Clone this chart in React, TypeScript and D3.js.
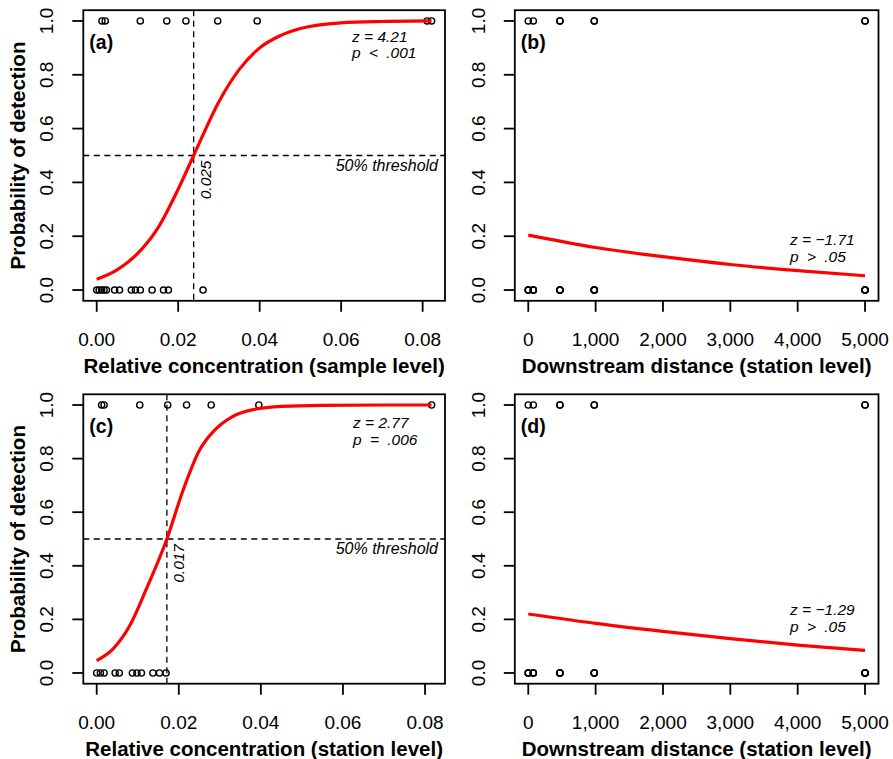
import * as d3 from 'd3';

const FONT = '"Liberation Sans", Arial, Helvetica, sans-serif';

const probTicks = [0, 0.2, 0.4, 0.6, 0.8, 1.0];
const concTicks = [0, 0.02, 0.04, 0.06, 0.08];
const distTicks = [0, 1000, 2000, 3000, 4000, 5000];

// (a) relative concentration, sample level
const sampleDetected = [0.0013, 0.0021, 0.0107, 0.0172, 0.0219, 0.0297, 0.0394, 0.0811, 0.0822];
const sampleMissed = [0, 0.0006, 0.0012, 0.0018, 0.0024, 0.0044, 0.0056, 0.0085, 0.0095, 0.0107, 0.0136, 0.0164, 0.0176, 0.0261];
const sampleCurveX = [0, 0.005, 0.01, 0.015, 0.02, 0.0238, 0.03, 0.035, 0.04, 0.045, 0.05, 0.06, 0.07, 0.0822];
const sampleCurveP = [0.04, 0.075, 0.135, 0.23, 0.375, 0.5, 0.7, 0.82, 0.9, 0.945, 0.972, 0.993, 0.998, 1.0];

// (c) relative concentration, station level
const stationDetected = [0.0012, 0.0018, 0.0105, 0.0173, 0.0219, 0.0279, 0.0395, 0.0816];
const stationMissed = [0, 0.0009, 0.0018, 0.0045, 0.0055, 0.0087, 0.0098, 0.0109, 0.0137, 0.0153, 0.0169];
const stationCurveX = [0, 0.004, 0.008, 0.012, 0.0171, 0.021, 0.025, 0.029, 0.033, 0.037, 0.045, 0.055, 0.07, 0.0816];
const stationCurveP = [0.046, 0.09, 0.175, 0.31, 0.5, 0.68, 0.83, 0.91, 0.956, 0.979, 0.995, 0.999, 1.0, 1.0];

// (b), (d) downstream distance, station level
const distDetected = [0, 75, 470, 470, 980, 980, 5000, 5000];
const distMissed = [0, 0, 0, 75, 75, 75, 470, 470, 470, 470, 980, 980, 980, 980, 5000, 5000, 5000, 5000, 5000];
const distCurveX = [0, 1000, 2000, 3000, 4000, 5000];
const distCurvePb = [0.204, 0.158, 0.124, 0.095, 0.072, 0.053];
const distCurvePd = [0.22, 0.185, 0.155, 0.128, 0.104, 0.084];

const fmtConc = d3.format('.2f');
const fmtDist = (d: number) => (d === 0 ? '0' : d3.format(',')(d));

type Box = { left: number; right: number; top: number; bottom: number };

type PanelProps = {
  box: Box;
  xMax: number;
  xTicks: number[];
  xFormat: (d: number) => string;
  detected: number[];
  missed: number[];
  curveX: number[];
  curveP: number[];
  letter: string;
  zText: string;
  pText: string;
  statX: number;
  zY: number;
  pY: number;
  xTitle: string;
  yTitle?: string;
  threshold?: { x: number; label: string };
};

function Panel(props: PanelProps) {
  const { box, xMax, xTicks, xFormat, detected, missed, curveX, curveP } = props;
  const x = d3.scaleLinear().domain([-0.04 * xMax, 1.04 * xMax]).range([box.left, box.right]);
  const y = d3.scaleLinear().domain([-0.04, 1.04]).range([box.bottom, box.top]);
  const line = d3
    .line<number>()
    .x((d) => x(d))
    .y((_, i) => y(curveP[i]))
    .curve(d3.curveMonotoneX);
  const tickLen = 11;
  const cx = (box.left + box.right) / 2;
  const cy = (box.top + box.bottom) / 2;

  return (
    <g>
      {/* threshold lines */}
      {props.threshold && (
        <g stroke="#000" strokeWidth={1.3} strokeDasharray="6,4.5" fill="none">
          <line x1={box.left} x2={box.right} y1={y(0.5)} y2={y(0.5)} />
          <line x1={x(props.threshold.x)} x2={x(props.threshold.x)} y1={box.top} y2={box.bottom} />
        </g>
      )}
      {props.threshold && (
        <>
          <text
            x={box.right - 7}
            y={y(0.5) + 15}
            textAnchor="end"
            fontStyle="italic"
            fontSize={16}
            fontFamily={FONT}
          >
            50% threshold
          </text>
          <text
            transform={`translate(${x(props.threshold.x) + 17},${y(0.5) + 5}) rotate(-90)`}
            textAnchor="end"
            fontStyle="italic"
            fontSize={15.5}
            fontFamily={FONT}
          >
            {props.threshold.label}
          </text>
        </>
      )}

      {/* points */}
      <g fill="none" stroke="#000" strokeWidth={1.4}>
        {detected.map((d, i) => (
          <circle key={'d' + i} cx={x(d)} cy={y(1)} r={3.1} />
        ))}
        {missed.map((d, i) => (
          <circle key={'m' + i} cx={x(d)} cy={y(0)} r={3.1} />
        ))}
      </g>

      {/* fitted curve */}
      <path d={line(curveX) || ''} fill="none" stroke="#ff0000" strokeWidth={3.2} />

      {/* box */}
      <rect
        x={box.left}
        y={box.top}
        width={box.right - box.left}
        height={box.bottom - box.top}
        fill="none"
        stroke="#000"
        strokeWidth={1.8}
      />

      {/* x axis */}
      {xTicks.map((t) => (
        <g key={'xt' + t}>
          <line x1={x(t)} x2={x(t)} y1={box.bottom} y2={box.bottom + tickLen} stroke="#000" strokeWidth={1.8} />
          <text x={x(t)} y={box.bottom + 45} textAnchor="middle" fontSize={19} fontFamily={FONT}>
            {xFormat(t)}
          </text>
        </g>
      ))}
      <text x={cx} y={box.bottom + 72} textAnchor="middle" fontSize={20.5} fontWeight="bold" fontFamily={FONT}>
        {props.xTitle}
      </text>

      {/* y axis */}
      {probTicks.map((t) => (
        <g key={'yt' + t}>
          <line x1={box.left - tickLen} x2={box.left} y1={y(t)} y2={y(t)} stroke="#000" strokeWidth={1.8} />
          <text
            transform={`translate(${box.left - 30},${y(t)}) rotate(-90)`}
            textAnchor="middle"
            fontSize={19}
            fontFamily={FONT}
          >
            {t.toFixed(1)}
          </text>
        </g>
      ))}
      {props.yTitle && (
        <text
          transform={`translate(${box.left - 58},${cy}) rotate(-90)`}
          textAnchor="middle"
          fontSize={20.5}
          fontWeight="bold"
          fontFamily={FONT}
        >
          {props.yTitle}
        </text>
      )}

      {/* labels */}
      <text x={box.left + 6} y={box.top + 39} fontSize={19.5} fontWeight="bold" fontFamily={FONT}>
        {props.letter}
      </text>
      <text x={props.statX} y={props.zY} fontSize={15.5} fontStyle="italic" fontFamily={FONT}>
        {props.zText}
      </text>
      <text x={props.statX} y={props.pY} fontSize={15.5} fontStyle="italic" fontFamily={FONT} wordSpacing={4}>
        {props.pText}
      </text>
    </g>
  );
}

export default function App() {
  const boxA = { left: 83.3, right: 445, top: 10.2, bottom: 300.8 };
  const boxB = { left: 514.8, right: 878.5, top: 10.2, bottom: 300.8 };
  const boxC = { left: 83.3, right: 445, top: 394.3, bottom: 683.7 };
  const boxD = { left: 514.8, right: 878.5, top: 394.3, bottom: 683.7 };

  return (
    <div style={{ position: 'absolute', left: 0, top: 0 }}>
      <svg width={893} height={759} style={{ display: 'block', background: '#fff' }}>
        <Panel
          box={boxA}
          xMax={0.0822}
          xTicks={concTicks}
          xFormat={fmtConc}
          detected={sampleDetected}
          missed={sampleMissed}
          curveX={sampleCurveX}
          curveP={sampleCurveP}
          letter="(a)"
          zText="z = 4.21"
          pText="p < .001"
          statX={352}
          zY={41.5}
          pY={58}
          xTitle="Relative concentration (sample level)"
          yTitle="Probability of detection"
          threshold={{ x: 0.0238, label: '0.025' }}
        />
        <Panel
          box={boxB}
          xMax={5000}
          xTicks={distTicks}
          xFormat={fmtDist}
          detected={distDetected}
          missed={distMissed}
          curveX={distCurveX}
          curveP={distCurvePb}
          letter="(b)"
          zText="z = −1.71"
          pText="p > .05"
          statX={790}
          zY={245}
          pY={262}
          xTitle="Downstream distance (station level)"
        />
        <Panel
          box={boxC}
          xMax={0.0816}
          xTicks={concTicks}
          xFormat={fmtConc}
          detected={stationDetected}
          missed={stationMissed}
          curveX={stationCurveX}
          curveP={stationCurveP}
          letter="(c)"
          zText="z = 2.77"
          pText="p = .006"
          statX={353}
          zY={428}
          pY={445}
          xTitle="Relative concentration (station level)"
          yTitle="Probability of detection"
          threshold={{ x: 0.0171, label: '0.017' }}
        />
        <Panel
          box={boxD}
          xMax={5000}
          xTicks={distTicks}
          xFormat={fmtDist}
          detected={distDetected}
          missed={distMissed}
          curveX={distCurveX}
          curveP={distCurvePd}
          letter="(d)"
          zText="z = −1.29"
          pText="p > .05"
          statX={790}
          zY={615}
          pY={632}
          xTitle="Downstream distance (station level)"
        />
      </svg>
    </div>
  );
}
